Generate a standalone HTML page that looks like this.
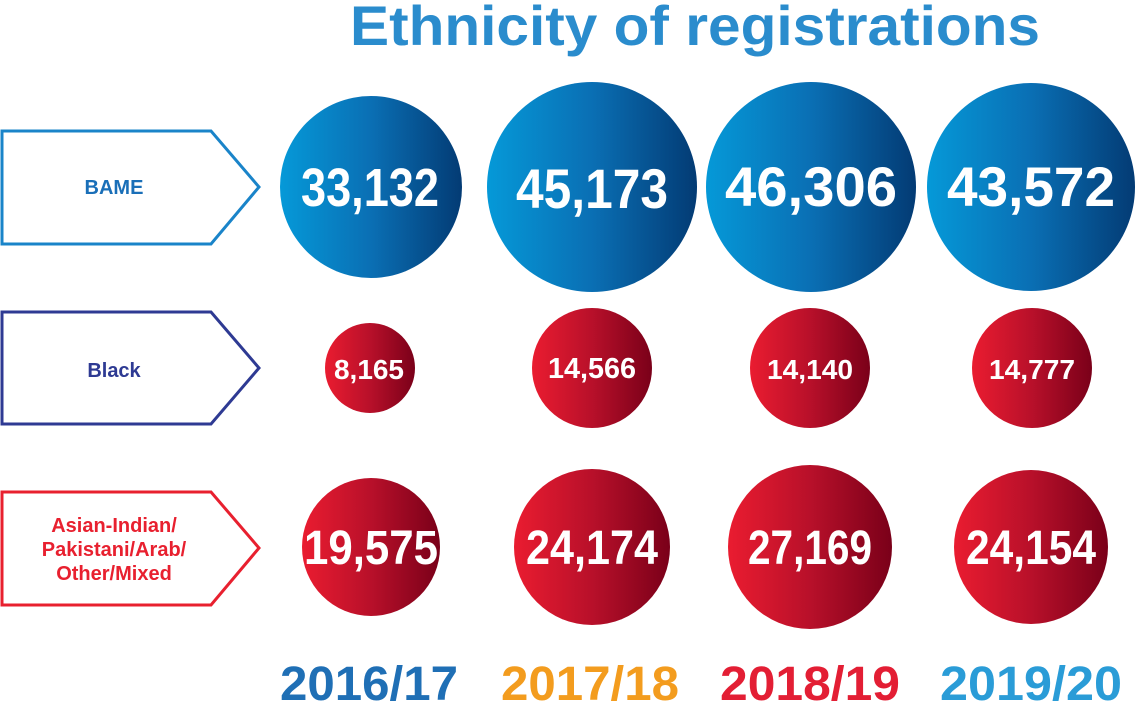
<!DOCTYPE html>
<html><head><meta charset="utf-8"><style>html,body{margin:0;padding:0;background:#fff}svg{display:block}</style></head>
<body>
<svg width="1137" height="705" viewBox="0 0 1137 705" xmlns="http://www.w3.org/2000/svg" font-family="Liberation Sans, sans-serif" font-weight="bold">
<defs>
<linearGradient id="b" x1="0" x2="1" y1="0" y2="0"><stop offset="0" stop-color="#0599d8"/><stop offset="0.5" stop-color="#0a6fb4"/><stop offset="1" stop-color="#033b74"/></linearGradient>
<linearGradient id="r" x1="0" x2="1" y1="0" y2="0"><stop offset="0" stop-color="#ea1c30"/><stop offset="0.5" stop-color="#b8102a"/><stop offset="1" stop-color="#7a0019"/></linearGradient>
</defs>
<text x="695" y="45" text-anchor="middle" font-size="56" fill="#2a8ccd" textLength="690" lengthAdjust="spacingAndGlyphs">Ethnicity of registrations</text>

<polygon points="2,131 211,131 259,187 211,244 2,244" fill="none" stroke="#1a84c9" stroke-width="3"/>
<text x="114" y="194" text-anchor="middle" font-size="20" fill="#1a6fb8">BAME</text>
<polygon points="2,312 211,312 259,368 211,424 2,424" fill="none" stroke="#2e3a93" stroke-width="3"/>
<text x="114" y="377" text-anchor="middle" font-size="20" fill="#2e3a93">Black</text>
<polygon points="2,492 211,492 259,548 211,605 2,605" fill="none" stroke="#e8202f" stroke-width="3"/>
<g font-size="20" fill="#e8202f" text-anchor="middle">
<text x="114" y="532">Asian-Indian/</text>
<text x="114" y="556">Pakistani/Arab/</text>
<text x="114" y="580">Other/Mixed</text>
</g>

<circle cx="371" cy="187" r="91" fill="url(#b)"/>
<circle cx="592" cy="187" r="105" fill="url(#b)"/>
<circle cx="811" cy="187" r="105" fill="url(#b)"/>
<circle cx="1031" cy="187" r="104" fill="url(#b)"/>
<circle cx="370" cy="368" r="45" fill="url(#r)"/>
<circle cx="592" cy="368" r="60" fill="url(#r)"/>
<circle cx="810" cy="368" r="60" fill="url(#r)"/>
<circle cx="1032" cy="368" r="60" fill="url(#r)"/>
<circle cx="371" cy="547" r="69" fill="url(#r)"/>
<circle cx="592" cy="547" r="78" fill="url(#r)"/>
<circle cx="810" cy="547" r="82" fill="url(#r)"/>
<circle cx="1031" cy="547" r="77" fill="url(#r)"/>

<g fill="#fff" text-anchor="middle" lengthAdjust="spacingAndGlyphs">
<text x="370" y="206" font-size="54" textLength="138" lengthAdjust="spacingAndGlyphs">33,132</text>
<text x="592" y="208" font-size="56" textLength="152" lengthAdjust="spacingAndGlyphs">45,173</text>
<text x="811" y="206" font-size="56" textLength="172" lengthAdjust="spacingAndGlyphs">46,306</text>
<text x="1031" y="206" font-size="56" textLength="168" lengthAdjust="spacingAndGlyphs">43,572</text>
<text x="369" y="379" font-size="28" textLength="70" lengthAdjust="spacingAndGlyphs">8,165</text>
<text x="592" y="378" font-size="29" textLength="88" lengthAdjust="spacingAndGlyphs">14,566</text>
<text x="810" y="379" font-size="28" textLength="86" lengthAdjust="spacingAndGlyphs">14,140</text>
<text x="1032" y="379" font-size="28" textLength="86" lengthAdjust="spacingAndGlyphs">14,777</text>
<text x="371" y="564" font-size="48" textLength="134" lengthAdjust="spacingAndGlyphs">19,575</text>
<text x="592" y="564" font-size="48" textLength="132" lengthAdjust="spacingAndGlyphs">24,174</text>
<text x="810" y="564" font-size="48" textLength="124" lengthAdjust="spacingAndGlyphs">27,169</text>
<text x="1031" y="564" font-size="48" textLength="130" lengthAdjust="spacingAndGlyphs">24,154</text>
</g>

<g font-size="48" text-anchor="middle">
<text x="369" y="700" fill="#1f6fb5" textLength="178" lengthAdjust="spacingAndGlyphs">2016/17</text>
<text x="590" y="700" fill="#f39c1e" textLength="178" lengthAdjust="spacingAndGlyphs">2017/18</text>
<text x="810" y="700" fill="#e31e34" textLength="180" lengthAdjust="spacingAndGlyphs">2018/19</text>
<text x="1031" y="700" fill="#2a9cd7" textLength="182" lengthAdjust="spacingAndGlyphs">2019/20</text>
</g>
</svg>
</body></html>
